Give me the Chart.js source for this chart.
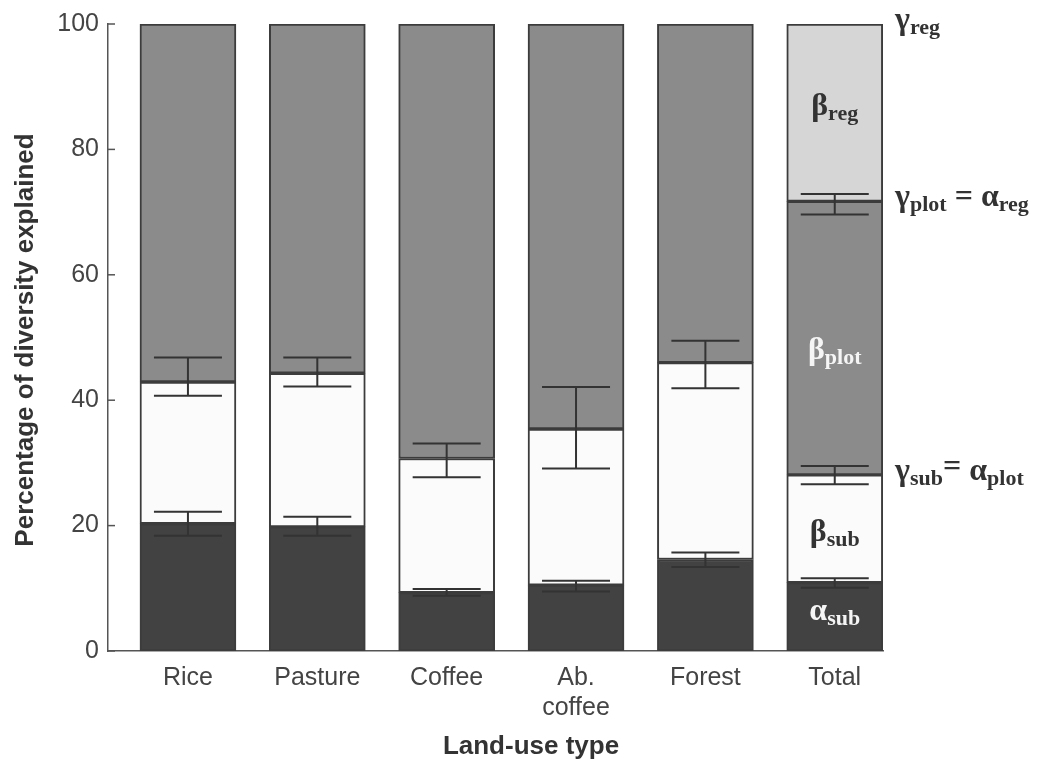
<!DOCTYPE html>
<html>
<head>
<meta charset="utf-8">
<script src="https://cdn.jsdelivr.net/npm/chart.js@4/dist/chart.umd.min.js"></script>
<style>
  html, body { margin: 0; padding: 0; background: #ffffff; }
  canvas { display: block; }
</style>
</head>
<body>
<canvas id="chart" width="1039" height="761"></canvas>
<script>
// Land-use types along the x axis
const categories = ['Rice', 'Pasture', 'Coffee', ['Ab.', 'coffee'], 'Forest', 'Total'];

// Cumulative diversity levels (% of regional diversity)
const alphaSub  = [20.3, 19.8, 9.3, 10.5, 14.6, 10.9];   // top of alpha_sub
const gammaSub  = [42.9, 44.3, 30.7, 35.4, 46.0, 28.1];   // gamma_sub = alpha_plot
const gammaPlot = [100, 100, 100, 100, 100, 71.7];        // gamma_plot = alpha_reg
const gammaReg  = [null, null, null, null, null, 100];    // regional total

// Error bar extents [low, high] at each level
const alphaSubErrLow  = [18.4, 18.4, 8.8, 9.5, 13.4, 10.1];
const alphaSubErrHigh = [22.2, 21.4, 9.9, 11.2, 15.7, 11.6];
const gammaSubErrLow  = [40.7, 42.2, 27.7, 29.1, 41.9, 26.6];
const gammaSubErrHigh = [46.8, 46.8, 33.1, 42.1, 49.5, 29.5];
const gammaPlotErrLow  = [null, null, null, null, null, 69.6];
const gammaPlotErrHigh = [null, null, null, null, null, 72.9];

const yTicks = [0, 20, 40, 60, 80, 100];

const SANS = "'Liberation Sans', Arial, sans-serif";
const SERIF = "'Liberation Serif', 'Times New Roman', serif";

function segment(lows, highs) {
  const out = [];
  highs.forEach((h, i) => {
    if (h === null || h === undefined) return;
    const lo = lows === null ? 0 : lows[i];
    out.push({ x: i + 1, y: [lo, h] });
  });
  return out;
}

const barStyle = {
  barThickness: 96,
  borderWidth: 2,
  borderColor: '#3c3c3c',
  borderSkipped: false,
  grouped: false
};

// Draws text made of main glyphs and lowered subscripts
function drawRich(ctx, x, y, parts, align, color) {
  ctx.save();
  ctx.fillStyle = color;
  ctx.textBaseline = 'alphabetic';
  ctx.textAlign = 'left';
  let total = 0;
  parts.forEach(p => {
    ctx.font = 'bold ' + p.size + 'px ' + SERIF;
    p.w = ctx.measureText(p.t).width;
    total += p.w + (p.gap || 0);
  });
  let cx = align === 'center' ? x - total / 2 : x;
  parts.forEach(p => {
    ctx.font = 'bold ' + p.size + 'px ' + SERIF;
    ctx.fillText(p.t, cx, y + (p.dy || 0));
    cx += p.w + (p.gap || 0);
  });
  ctx.restore();
}

const BIG = 32, SUB = 22, SUBDY = 5;

const decorations = {
  id: 'decorations',
  afterDatasetsDraw(chart) {
    const ctx = chart.ctx;
    const xs = chart.scales.x, ys = chart.scales.y;
    const area = chart.chartArea;

    // inward tick marks on the y axis
    ctx.save();
    ctx.strokeStyle = '#555';
    ctx.lineWidth = 1.5;
    yTicks.forEach(v => {
      const py = ys.getPixelForValue(v);
      ctx.beginPath();
      ctx.moveTo(area.left, py);
      ctx.lineTo(area.left + 7, py);
      ctx.stroke();
    });
    ctx.restore();

    // error bars
    const capHalf = 34;
    function errBar(i, lo, hi) {
      if (lo === null || hi === null) return;
      const px = xs.getPixelForValue(i + 1);
      const pLo = ys.getPixelForValue(lo), pHi = ys.getPixelForValue(hi);
      ctx.beginPath();
      ctx.moveTo(px, pLo); ctx.lineTo(px, pHi);
      ctx.moveTo(px - capHalf, pLo); ctx.lineTo(px + capHalf, pLo);
      ctx.moveTo(px - capHalf, pHi); ctx.lineTo(px + capHalf, pHi);
      ctx.stroke();
    }
    ctx.save();
    ctx.strokeStyle = '#333';
    ctx.lineWidth = 2;
    categories.forEach((_, i) => {
      errBar(i, alphaSubErrLow[i], alphaSubErrHigh[i]);
      errBar(i, gammaSubErrLow[i], gammaSubErrHigh[i]);
      errBar(i, gammaPlotErrLow[i], gammaPlotErrHigh[i]);
    });
    ctx.restore();

    // component names inside the Total bar
    const t = categories.length - 1;
    const tx = xs.getPixelForValue(t + 1);
    const inside = [
      { v: 85.5, g: 'β', s: 'reg',  c: '#333333' },
      { v: 46.5, g: 'β', s: 'plot', c: '#f5f5f5' },
      { v: 17.5, g: 'β', s: 'sub',  c: '#333333' },
      { v: 4.9,  g: 'α', s: 'sub',  c: '#f5f5f5' }
    ];
    inside.forEach(l => {
      drawRich(ctx, tx, ys.getPixelForValue(l.v), [
        { t: l.g, size: BIG },
        { t: l.s, size: SUB, dy: SUBDY }
      ], 'center', l.c);
    });

    // level names to the right of the Total bar
    const rx = area.right + 12;
    drawRich(ctx, rx, ys.getPixelForValue(gammaReg[t]) + 5, [
      { t: 'γ', size: BIG },
      { t: 'reg', size: SUB, dy: SUBDY }
    ], 'left', '#333');
    drawRich(ctx, rx, ys.getPixelForValue(gammaPlot[t]) + 5, [
      { t: 'γ', size: BIG },
      { t: 'plot', size: SUB, dy: SUBDY, gap: 8 },
      { t: '=', size: BIG, gap: 8 },
      { t: 'α', size: BIG },
      { t: 'reg', size: SUB, dy: SUBDY }
    ], 'left', '#333');
    drawRich(ctx, rx, ys.getPixelForValue(gammaSub[t]) + 5, [
      { t: 'γ', size: BIG },
      { t: 'sub', size: SUB, dy: SUBDY },
      { t: '=', size: BIG, dy: -4, gap: 8 },
      { t: 'α', size: BIG },
      { t: 'plot', size: SUB, dy: SUBDY }
    ], 'left', '#333');

    // axis titles
    ctx.save();
    ctx.fillStyle = '#333';
    ctx.font = 'bold 26px ' + SANS;
    ctx.textAlign = 'center';
    ctx.textBaseline = 'alphabetic';
    ctx.fillText('Land-use type', 531, 754);
    ctx.translate(33, 340);
    ctx.rotate(-Math.PI / 2);
    ctx.fillText('Percentage of diversity explained', 0, 0);
    ctx.restore();
  }
};

new Chart(document.getElementById('chart'), {
  type: 'bar',
  data: {
    datasets: [
      Object.assign({ label: 'α sub', data: segment(null, alphaSub), backgroundColor: '#424242' }, barStyle),
      Object.assign({ label: 'β sub', data: segment(alphaSub, gammaSub), backgroundColor: '#fbfbfb' }, barStyle),
      Object.assign({ label: 'β plot', data: segment(gammaSub, gammaPlot), backgroundColor: '#8b8b8b' }, barStyle),
      Object.assign({ label: 'β reg', data: segment(gammaPlot, gammaReg), backgroundColor: '#d6d6d6' }, barStyle)
    ]
  },
  options: {
    responsive: false,
    devicePixelRatio: 1,
    animation: false,
    layout: { padding: { left: 0, top: 24, right: 156, bottom: 0 } },
    plugins: {
      legend: { display: false },
      tooltip: { enabled: false }
    },
    scales: {
      x: {
        type: 'linear',
        min: 0.382,
        max: 6.373,
        offset: false,
        grid: { display: false, drawTicks: false, offset: false },
        border: { display: true, color: '#555', width: 1.5 },
        afterBuildTicks: s => { s.ticks = categories.map((_, i) => ({ value: i + 1 })); },
        afterFit: s => { s.height = 110; },
        ticks: {
          autoSkip: false,
          maxRotation: 0,
          padding: 12,
          color: '#444',
          font: { family: SANS, size: 25, lineHeight: 1.2 },
          callback: v => categories[v - 1]
        }
      },
      y: {
        min: 0,
        max: 100,
        grid: { display: false, drawTicks: false },
        border: { display: true, color: '#555', width: 1.5 },
        afterBuildTicks: s => { s.ticks = yTicks.map(v => ({ value: v })); },
        afterFit: s => { s.width = 108; },
        ticks: {
          padding: 9,
          color: '#444',
          font: { family: SANS, size: 25 }
        }
      }
    }
  },
  plugins: [decorations]
});
</script>
</body>
</html>
